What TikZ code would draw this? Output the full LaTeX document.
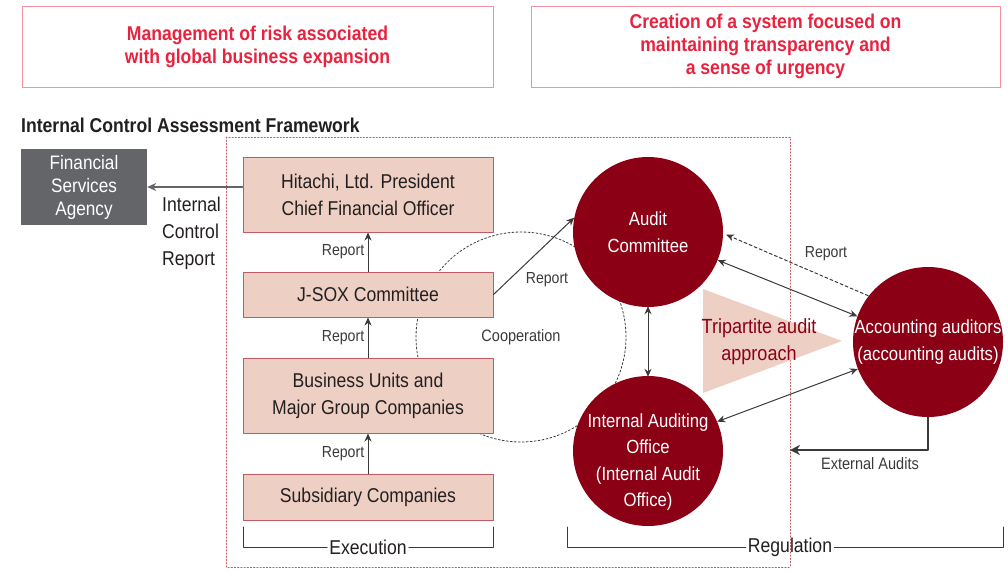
\documentclass[tikz,border=0pt]{standalone}
\usepackage{fontspec}
\setmainfont[FakeStretch=0.88]{Liberation Sans}
\usepackage{xcolor}
\usetikzlibrary{arrows.meta,positioning}
\definecolor{icred}{HTML}{8B0014}
\definecolor{icpink}{HTML}{EDCFC4}
\definecolor{icborder}{HTML}{C25A63}
\definecolor{ictitle}{HTML}{E8233F}
\definecolor{ictopline}{HTML}{F2929C}
\definecolor{icgray}{HTML}{646569}
\definecolor{ictext}{HTML}{231F20}
\definecolor{icline}{HTML}{3A3A3A}
\tikzset{
  every picture/.append style={line cap=round,line join=round},
  ic goal/.style={draw=ictopline,line width=1pt,minimum height=81pt,inner sep=0pt,align=center,
    text=ictitle,font=\bfseries\fontsize{20}{23}\selectfont},
  ic box/.style={draw=icborder,fill=icpink,line width=1pt,minimum width=250pt,inner sep=0pt,
    align=center,text=ictext,font=\fontsize{20}{27}\selectfont},
  ic body/.style={circle,fill=icred,minimum size=150pt,inner sep=0pt},
  ic body text/.style={align=center,text=white,font=\fontsize{19}{26.5}\selectfont,inner sep=0pt},
  ic note/.style={text=icline,font=\fontsize{16}{20}\selectfont},
  ic arrow/.style={icline,line width=1pt,-{Stealth[length=8pt,width=7pt]}},
  ic both/.style={icline,line width=1pt,{Stealth[length=8pt,width=7pt]}-{Stealth[length=8pt,width=7pt]}},
  ic frame/.style={icborder,line width=1pt,dash pattern=on 1.2pt off 2pt},
  ic bracket/.style={icline,line width=1pt}
}
\begin{document}
\begin{tikzpicture}[x=1pt,y=-1pt]
\useasboundingbox (0,0) rectangle (1008,571);
% goals
\node[ic goal,minimum width=471pt] (goal1) at (257.5,46.5)
  {Management of risk associated\\with global business expansion};
\node[ic goal,minimum width=469pt] (goal2) at (765.5,46.5)
  {Creation of a system focused on\\maintaining transparency and\\a sense of urgency};
\node[anchor=base west,inner sep=0pt,text=ictext,font=\bfseries\fontsize{20}{24}\selectfont] (title) at (21,132)
  {Internal Control Assessment Framework};
% cooperation ring and frame
\draw[icline,line width=0.8pt,dash pattern=on 2pt off 2pt] (521,337) circle (105pt);
\draw[ic frame] (226,137) rectangle (790,567);
% execution side
\node[fill=icgray,minimum width=126pt,minimum height=76pt,inner sep=0pt,align=center,
  text=white,font=\fontsize{19.5}{23}\selectfont] (fsa) at (84,187) {Financial\\Services\\Agency};
\node[ic box,minimum height=75pt] (hitachi) at (368,194.5) {Hitachi, Ltd. President\\Chief Financial Officer};
\node[ic box,minimum height=45pt] (jsox) at (368,294.5) {J-SOX Committee};
\node[ic box,minimum height=75pt] (units) at (368,395.5) {Business Units and\\Major Group Companies};
\node[ic box,minimum height=46pt] (subs) at (368,497) {Subsidiary Companies};
\draw[icgray,line width=1.3pt,-{Stealth[length=9pt,width=8pt]}] (hitachi.west |- fsa.east) -- (fsa.east);
\node[anchor=west,align=left,inner sep=0pt,text=ictext,font=\fontsize{20}{27}\selectfont] (icr) at (162,233)
  {Internal\\Control\\Report};
\draw[ic arrow] (jsox.north) -- (hitachi.south) node[midway,left,ic note] {Report};
\draw[ic arrow] (units.north) -- (jsox.south) node[midway,left,ic note] {Report};
\draw[ic arrow] (subs.north) -- (units.south) node[midway,left,ic note] {Report};
% regulation side
\fill[icpink] (703,289) -- (703,393) -- (842,341) -- cycle;
\node[text=icred,align=center,inner sep=0pt,font=\fontsize{20.5}{27}\selectfont] (tri) at (759,342)
  {Tripartite audit\\approach};
\node[ic body] (audit) at (648,232) {};
\node[ic body text] at (audit.center) {Audit\\Committee};
\node[ic body] (intaudit) at (648,451) {};
\node[ic body text] at (648,462) {Internal Auditing\\Office\\(Internal Audit\\Office)};
\node[ic body] (acct) at (928,342) {};
\node[ic body text] at (acct.center) {Accounting auditors\\(accounting audits)};
\draw[ic arrow] (jsox.east) -- (audit.169);
\node[ic note] (rep4) at (547,280) {Report};
\draw[ic both] ([yshift=1pt]audit.south) -- ([yshift=-1pt]intaudit.north);
\draw[ic both] (audit.-22) -- (acct.160);
\draw[ic both] (intaudit.23) -- (acct.201);
\draw[icline,line width=1pt,dash pattern=on 3pt off 2.5pt,-{Stealth[length=8pt,width=7pt]}]
  ([shift={(-4pt,-4pt)}]acct.138) -- ([xshift=3pt]audit.-2);
\node[ic note] (rep5) at (826,254) {Report};
\node[ic note,font=\fontsize{16.5}{20}\selectfont] (coop) at (521,337) {Cooperation};
\coordinate (extend) at (790,450);
\draw[icline,line width=2.4pt,line cap=butt,-{Stealth[length=10pt,width=10pt]}] (acct.south) |- (extend);
\node[ic note,font=\fontsize{16.5}{20}\selectfont] (extaud) at (870,464) {External Audits};
% brackets
\node[text=ictext,inner sep=2pt,font=\fontsize{20}{23}\selectfont] (exec) at (368,547) {Execution};
\draw[ic bracket] (243,527) |- (exec.west);
\draw[ic bracket] (exec.east) -| (493,527);
\node[text=ictext,inner sep=2pt,font=\fontsize{20}{23}\selectfont] (reg) at (790,547) {Regulation};
\draw[ic bracket] (567,527) |- (reg.west);
\draw[ic bracket] (reg.east) -| (1003,527);
\end{tikzpicture}
\end{document}
